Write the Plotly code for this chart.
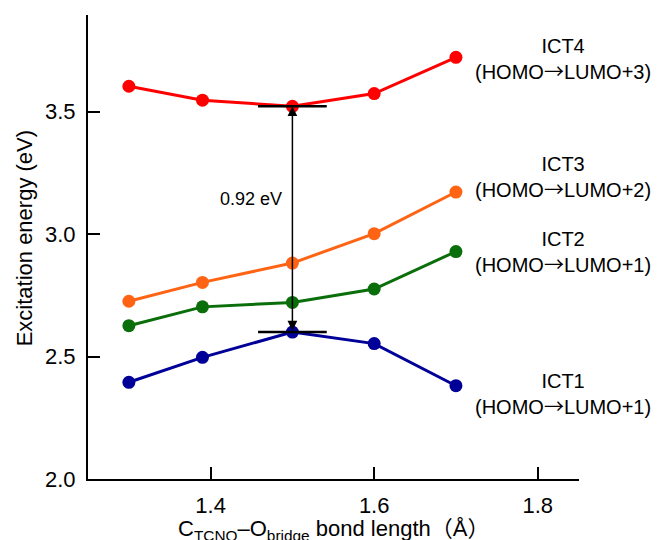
import plotly.graph_objects as go

bond_length = [1.30, 1.39, 1.50, 1.60, 1.70]
ict1 = [2.395, 2.497, 2.600, 2.553, 2.381]
ict2 = [2.626, 2.703, 2.721, 2.776, 2.929]
ict3 = [2.726, 2.803, 2.882, 3.002, 3.172]
ict4 = [3.604, 3.547, 3.522, 3.574, 3.722]

series_names = ["ICT1", "ICT2", "ICT3", "ICT4"]
series_values = [ict1, ict2, ict3, ict4]
series_colors = ["#000099", "#0a6e0a", "#ff6414", "#ff0000"]
CJK = '<span style="font-family:Noto Sans CJK JP">{}</span>'
ARROW = CJK.format("→")
series_labels = [
    f"ICT1<br>(HOMO{ARROW}LUMO+1)",
    f"ICT2<br>(HOMO{ARROW}LUMO+1)",
    f"ICT3<br>(HOMO{ARROW}LUMO+2)",
    f"ICT4<br>(HOMO{ARROW}LUMO+3)",
]
label_y = [2.344, 2.924, 3.231, 3.711]
label_x = 1.831
gap_text = "0.92 eV"
gap_text_pos = (1.49, 3.145)
x_ticks = [1.4, 1.6, 1.8]
y_ticks = [2.0, 2.5, 3.0, 3.5]
x_title = ("C<sub>TCNQ</sub>–O<sub>bridge</sub> bond length"
           + CJK.format("（") + "Å" + CJK.format("）"))
y_title = "Excitation energy (eV)"

FONT = "Liberation Sans, Arial, Noto Sans CJK JP, sans-serif"

fig = go.Figure()
for name, vals, col in zip(series_names, series_values, series_colors):
    fig.add_trace(go.Scatter(
        x=bond_length, y=vals, mode="lines+markers", name=name,
        line=dict(color=col, width=3),
        marker=dict(color=col, size=13),
        showlegend=False,
    ))

for txt, yy in zip(series_labels, label_y):
    fig.add_annotation(x=label_x, y=yy, xref="x", yref="y", text=txt,
                       showarrow=False, xanchor="center", yanchor="middle",
                       font=dict(family=FONT, size=20, color="black"))

# horizontal markers at x = 1.5 for ICT4 and ICT1
xc = bond_length[2]
half = 0.042
for yv in (ict4[2], ict1[2]):
    fig.add_shape(type="line", xref="x", yref="y", x0=xc - half, x1=xc + half,
                  y0=yv, y1=yv, line=dict(color="black", width=2.5))

# double-headed arrow
fig.add_annotation(x=xc, y=ict4[2], ax=xc, ay=ict1[2], xref="x", yref="y",
                   axref="x", ayref="y", text="", showarrow=True,
                   arrowhead=2, startarrowhead=2, arrowside="end+start",
                   arrowsize=1.3, startarrowsize=1.3, arrowwidth=1.5, arrowcolor="black")

fig.add_annotation(x=gap_text_pos[0], y=gap_text_pos[1], xref="x", yref="y",
                   text=gap_text, showarrow=False, xanchor="right", yanchor="middle",
                   font=dict(family=FONT, size=18, color="black"))

# axis titles as paper annotations (x title sits at the bottom edge, as in the reference)
fig.add_annotation(x=0.5, y=-0.103, xref="paper", yref="paper", text=x_title,
                   showarrow=False, xanchor="center", yanchor="middle",
                   font=dict(family=FONT, size=22, color="black"))
fig.add_annotation(x=-0.13, y=0.519, xref="paper", yref="paper", text=y_title,
                   showarrow=False, xanchor="center", yanchor="middle", textangle=-90,
                   font=dict(family=FONT, size=22, color="black"))

fig.update_layout(
    width=660, height=540,
    margin=dict(l=88, r=81, t=15, b=61),
    paper_bgcolor="white", plot_bgcolor="white",
    font=dict(family=FONT, size=22, color="black"),
)
fig.update_xaxes(
    range=[1.25, 1.8505], tickvals=x_ticks, ticktext=[f"{v:.1f}" for v in x_ticks],
    showgrid=False, zeroline=False, showline=True, linecolor="black", linewidth=2,
    ticks="inside", ticklen=12, tickwidth=1.5, tickcolor="black",
    tickfont=dict(size=22), ticklabelstandoff=6, automargin=False,
)
fig.update_yaxes(
    range=[2.0, 3.895], tickvals=y_ticks, ticktext=[f"{v:.1f}" for v in y_ticks],
    showgrid=False, zeroline=False, showline=True, linecolor="black", linewidth=2,
    ticks="inside", ticklen=12, tickwidth=1.5, tickcolor="black",
    tickfont=dict(size=22), ticklabelstandoff=6, automargin=False,
)

fig.write_html("out.html")
